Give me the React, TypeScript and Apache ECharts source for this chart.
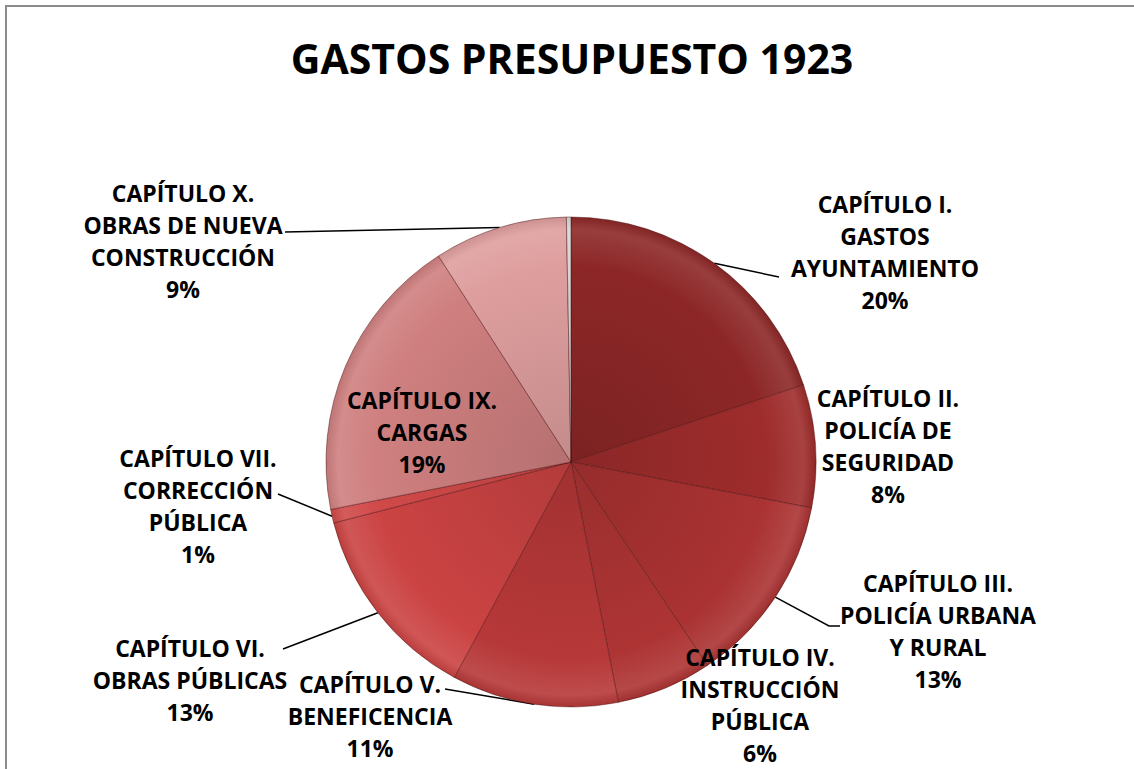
import React, { useEffect, useRef } from 'react';
import * as echarts from 'echarts';

const TITLE = 'GASTOS PRESUPUESTO 1923';
const CATEGORIES = [
  'CAPÍTULO I.\nGASTOS\nAYUNTAMIENTO',
  'CAPÍTULO II.\nPOLICÍA DE\nSEGURIDAD',
  'CAPÍTULO III.\nPOLICÍA URBANA\nY RURAL',
  'CAPÍTULO IV.\nINSTRUCCIÓN\nPÚBLICA',
  'CAPÍTULO V.\nBENEFICENCIA',
  'CAPÍTULO VI.\nOBRAS PÚBLICAS',
  'CAPÍTULO VII.\nCORRECCIÓN\nPÚBLICA',
  'CAPÍTULO IX.\nCARGAS',
  'CAPÍTULO X.\nOBRAS DE NUEVA\nCONSTRUCCIÓN',
  '',
];
const VALUES = [19.9, 8.1, 12.6, 6.3, 11.0, 13.1, 0.9, 19.0, 8.8, 0.3];

// styles / layout (not data)
const COLORS = ['#8D2727', '#9E2C2C', '#AA3232', '#AE3434', '#B73838', '#CB4343', '#D04949', '#CF7F7F', '#DF9E9E', '#D6D6D6'];
const LABEL_POS: (number[] | null)[] = [
  [885, 252], [888, 446], [938, 631], [760, 705], [370, 716],
  [190, 680], [198, 506], [422, 432], [183, 241], null,
];
// where each leader line meets its label (start point comes from the pie layout)
const LINE_END: (number[][] | null)[] = [
  [[779, 277]], null, [[829, 626], [840, 626]], null, [[445, 689]],
  [[283, 649]], [[278, 494]], null, [[285, 232]], null,
];
const CX = 571;
const CY = 462;
const R = 245;
const FONT = '"Open Sans", Lato, sans-serif';

function shade(hex: string, f: number): string {
  const n = parseInt(hex.slice(1), 16);
  let r = (n >> 16) & 255, g = (n >> 8) & 255, b = n & 255;
  const t = f < 0 ? 0 : 255;
  const p = Math.abs(f);
  r = Math.round((t - r) * p + r);
  g = Math.round((t - g) * p + g);
  b = Math.round((t - b) * p + b);
  return 'rgb(' + r + ',' + g + ',' + b + ')';
}

export default function App() {
  const ref = useRef<HTMLDivElement>(null);
  useEffect(() => {
    if (!ref.current) return;
    const chart = echarts.init(ref.current, undefined, { renderer: 'svg' });
    const data = VALUES.map((v, i) => {
      const c = COLORS[i];
      const item: any = {
        name: CATEGORIES[i],
        value: v,
        itemStyle: {
          color: new echarts.graphic.RadialGradient(CX, CY, R, [
            { offset: 0, color: shade(c, -0.12) },
            { offset: 0.8, color: c },
            { offset: 0.95, color: shade(c, 0.1) },
            { offset: 1, color: shade(c, -0.08) },
          ], true),
        },
      };
      if (!LINE_END[i]) item.labelLine = { show: false };
      if (!LABEL_POS[i]) item.label = { show: false };
      return item;
    });
    chart.setOption({
      animation: false,
      backgroundColor: '#ffffff',
      graphic: [
        {
          type: 'rect',
          shape: { x: 6, y: 6, width: 1160, height: 800 },
          style: { fill: 'none', stroke: '#8c8c8c', lineWidth: 2 },
          silent: true,
        },
        {
          type: 'text',
          x: 572,
          y: 58,
          style: {
            text: TITLE,
            align: 'center',
            verticalAlign: 'middle',
            fill: '#000',
            font: 'bold 41px ' + FONT,
          },
        },
      ],
      series: [
        {
          type: 'pie',
          center: [CX, CY],
          radius: [0, R],
          startAngle: 90,
          clockwise: true,
          avoidLabelOverlap: false,
          itemStyle: { borderColor: 'rgba(70,10,10,0.45)', borderWidth: 1 },
          label: {
            show: true,
            position: 'outside',
            formatter: (p: any) => p.name + '\n' + Math.round(p.percent) + '%',
            fontFamily: FONT,
            fontWeight: 'bold',
            fontSize: 23,
            lineHeight: 32,
            color: '#000',
            align: 'center',
          },
          labelLine: { show: true, length: 10, length2: 8, lineStyle: { color: '#000', width: 1.5 } },
          labelLayout: (params: any) => {
            const i = params.dataIndex;
            const p = LABEL_POS[i];
            if (!p) return {};
            const out: any = { x: p[0], y: p[1], align: 'center', verticalAlign: 'middle' };
            const ends = LINE_END[i];
            if (ends && params.labelLinePoints && params.labelLinePoints.length) {
              out.labelLinePoints = [params.labelLinePoints[0]].concat(ends);
            }
            return out;
          },
          data,
        },
      ],
    });
    return () => chart.dispose();
  }, []);
  return (
    <div
      ref={ref}
      style={{ position: 'absolute', left: 0, top: 0, width: 1134, height: 769, overflow: 'hidden', background: '#fff' }}
    />
  );
}
